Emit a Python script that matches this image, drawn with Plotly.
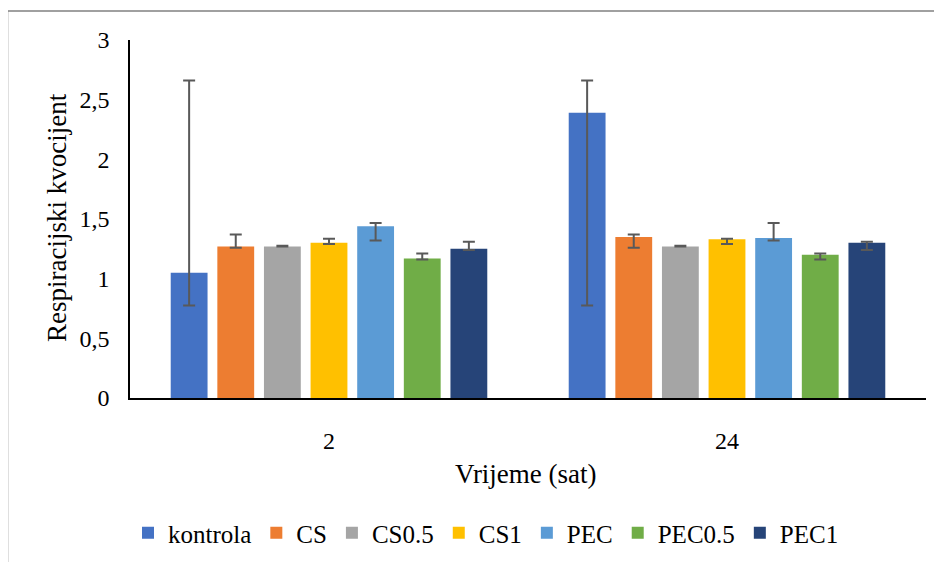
# respiratory quotient bar chart with error bars
import plotly.graph_objs as go

categories = ['2', '24']
series = ['kontrola', 'CS', 'CS0.5', 'CS1', 'PEC', 'PEC0.5', 'PEC1']
colors = ['#4472C4', '#ED7D31', '#A5A5A5', '#FFC000', '#5B9BD5', '#70AD47', '#264478']

# mean values per series: [2 h, 24 h]
kontrola = [1.05, 2.39]
cs = [1.27, 1.35]
cs05 = [1.27, 1.27]
cs1 = [1.30, 1.33]
pec = [1.44, 1.34]
pec05 = [1.17, 1.20]
pec1 = [1.25, 1.30]

# error bar ends (upper / lower) for each series, same for both times
err_hi = [2.66, 1.37, 1.276, 1.335, 1.467, 1.21, 1.31]
err_lo = [0.775, 1.26, 1.27, 1.29, 1.32, 1.16, 1.24]

values = [kontrola, cs, cs05, cs1, pec, pec05, pec1]

FONT = 'Liberation Serif'
W, H = 942, 562
OFF = 8  # page body margin, screen px -> figure px
L, R, T, B = 130 - OFF, 16 + OFF, 40 - OFF, 164 + OFF
pw = W - L - R
ph = H - T - B

def px_x(x):
    # screen x to paper fraction
    return (x - OFF - L) / float(pw)

def px_y(y):
    # screen y to paper fraction
    return (H - B - (y - OFF)) / float(ph)

data = []
for i, name in enumerate(series):
    vals = values[i]
    plus = [err_hi[i] - v for v in vals]
    minus = [max(v - err_lo[i], 0) for v in vals]
    data.append(go.Bar(
        x=categories, y=vals, name=name,
        marker=dict(color=colors[i], line=dict(width=0)),
        error_y=dict(type='data', symmetric=False, array=plus, arrayminus=minus,
                     color='#595959', thickness=2, width=6),
    ))

layout = go.Layout(
    width=W, height=H,
    margin=dict(l=L, r=R, t=T, b=B),
    paper_bgcolor='white', plot_bgcolor='white',
    font=dict(family=FONT, size=24, color='black'),
    separators=', ',
    barmode='group', bargap=0.18, bargroupgap=0.21,
    xaxis=dict(type='category', showline=True, linecolor='black', linewidth=2,
               showgrid=False, ticks='', ticklabelstandoff=20,
               tickfont=dict(family=FONT, size=24)),
    yaxis=dict(range=[0, 3], dtick=0.5, showline=True, linecolor='black', linewidth=1.5,
               showgrid=False, zeroline=False, ticks='', ticklabelstandoff=14,
               tickformat='.1~f', tickfont=dict(family=FONT, size=24)),
    showlegend=True,
    legend=dict(orientation='h', x=px_x(486), xanchor='center', y=px_y(533), yanchor='middle',
                font=dict(family=FONT, size=25), itemwidth=30, tracegroupgap=0),
    annotations=[
        dict(text='Respiracijski kvocijent', xref='paper', yref='paper',
             x=px_x(57), y=px_y(218), xanchor='center', yanchor='middle',
             textangle=-90, showarrow=False, font=dict(family=FONT, size=27)),
        dict(text='Vrijeme (sat)', xref='paper', yref='paper',
             x=px_x(526), y=px_y(474), xanchor='center', yanchor='middle',
             showarrow=False, font=dict(family=FONT, size=27)),
    ],
    shapes=[
        dict(type='line', xref='paper', yref='paper', x0=px_x(7.5), x1=px_x(960),
             y0=px_y(11), y1=px_y(11), line=dict(color='#808080', width=1.5)),
        dict(type='line', xref='paper', yref='paper', x0=px_x(7.5), x1=px_x(7.5),
             y0=px_y(11), y1=px_y(580), line=dict(color='#808080', width=1.5)),
    ],
)

fig = go.Figure(data=data, layout=layout)
fig.write_html('out.html')
